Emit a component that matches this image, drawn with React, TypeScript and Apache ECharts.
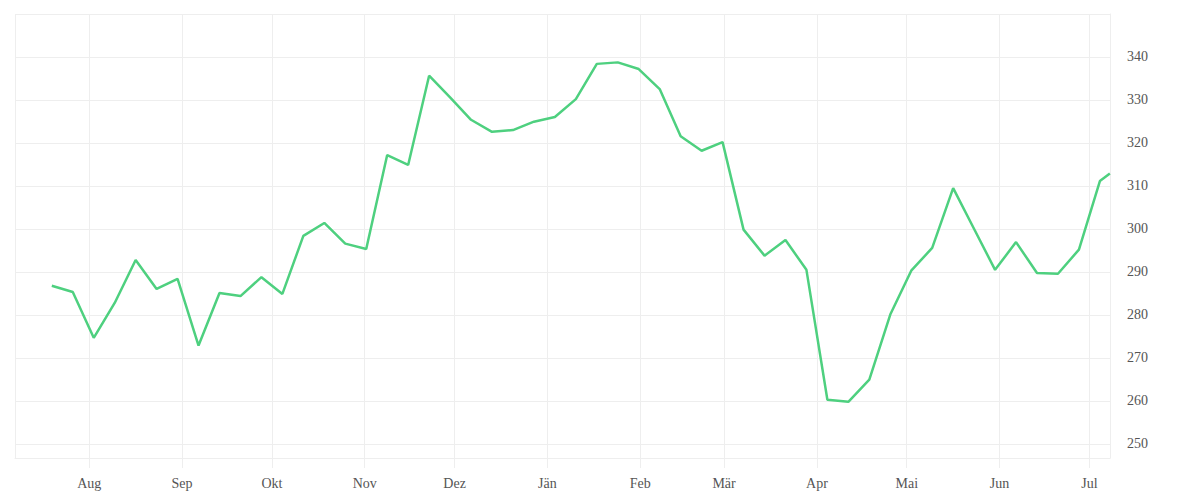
import React, { useEffect, useRef } from "react";
import * as echarts from "echarts";

const dates: string[] = [
  "2022-07-19T12:00", "2022-07-26T12:00", "2022-08-02T12:00", "2022-08-09T12:00",
  "2022-08-16T12:00", "2022-08-23T12:00", "2022-08-30T12:00", "2022-09-06T12:00",
  "2022-09-13T12:00", "2022-09-20T12:00", "2022-09-27T12:00", "2022-10-04T12:00",
  "2022-10-11T12:00", "2022-10-18T12:00", "2022-10-25T12:00", "2022-11-01T12:00",
  "2022-11-08T12:00", "2022-11-15T12:00", "2022-11-22T12:00", "2022-11-29T12:00",
  "2022-12-06T12:00", "2022-12-13T12:00", "2022-12-20T12:00", "2022-12-27T12:00",
  "2023-01-03T12:00", "2023-01-10T12:00", "2023-01-17T12:00", "2023-01-24T12:00",
  "2023-01-31T12:00", "2023-02-07T12:00", "2023-02-14T12:00", "2023-02-21T12:00",
  "2023-02-28T12:00", "2023-03-07T12:00", "2023-03-14T12:00", "2023-03-21T12:00",
  "2023-03-28T12:00", "2023-04-04T12:00", "2023-04-11T12:00", "2023-04-18T12:00",
  "2023-04-25T12:00", "2023-05-02T12:00", "2023-05-09T12:00", "2023-05-16T12:00",
  "2023-05-23T12:00", "2023-05-30T12:00", "2023-06-06T12:00", "2023-06-13T12:00",
  "2023-06-20T12:00", "2023-06-27T12:00", "2023-07-04T12:00", "2023-07-07T20:00",
];

const values: number[] = [
  286.8, 285.35, 274.7, 282.8, 292.8, 286.05, 288.4, 272.9,
  285.1, 284.4, 288.8, 284.9, 298.4, 301.4, 296.6, 295.35,
  317.2, 314.9, 335.65, 330.6, 325.4, 322.6, 323.0, 324.95,
  326.05, 330.2, 338.4, 338.75, 337.2, 332.55, 321.55, 318.2,
  320.2, 299.85, 293.8, 297.45, 290.5, 260.3, 259.8, 264.95,
  280.1, 290.3, 295.6, 309.5, 300.0, 290.5, 296.95, 289.75,
  289.6, 295.2, 311.15, 312.9,
];

const monthLabels: string[] = [
  "Jän", "Feb", "Mär", "Apr", "Mai", "Jun",
  "Jul", "Aug", "Sep", "Okt", "Nov", "Dez",
];

const xMin = "2022-07-07T05:00";
const xMax = "2023-07-07T21:00";
const yMin = 246.74;
const yMax = 350;

const FONT = "'Liberation Serif', serif";
const GRID_COLOR = "#eeeeee";
const LABEL_COLOR = "#555555";
const LINE_COLOR = "#4ed07f";

export default function App() {
  const ref = useRef<HTMLDivElement>(null);

  useEffect(() => {
    document.body.style.margin = "0";
    if (!ref.current) return;
    const chart = echarts.init(ref.current, null, { renderer: "svg" });
    chart.setOption({
      animation: false,
      grid: { left: 15, right: 90, top: 14, bottom: 42, containLabel: false },
      xAxis: {
        type: "time",
        min: xMin,
        max: xMax,
        splitNumber: 12,
        axisLine: { show: true, lineStyle: { color: GRID_COLOR, width: 1 } },
        axisTick: { show: true, length: 10, lineStyle: { color: GRID_COLOR, width: 1 } },
        splitLine: { show: true, lineStyle: { color: GRID_COLOR, width: 1 } },
        minorTick: { show: false },
        axisLabel: {
          margin: 18,
          color: LABEL_COLOR,
          fontFamily: FONT,
          fontSize: 14,
          fontWeight: "normal",
          formatter: (v: number) => monthLabels[new Date(v).getMonth()],
        },
      },
      yAxis: {
        type: "value",
        position: "right",
        min: yMin,
        max: yMax,
        splitNumber: 10,
        axisLine: { show: true, lineStyle: { color: GRID_COLOR, width: 1 } },
        axisTick: { show: false },
        splitLine: { show: true, lineStyle: { color: GRID_COLOR, width: 1 } },
        axisLabel: {
          margin: 17,
          color: LABEL_COLOR,
          fontFamily: FONT,
          fontSize: 14,
          padding: [4, 0, 0, 0],
          showMinLabel: false,
          showMaxLabel: false,
        },
      },
      series: [
        {
          type: "line",
          data: dates.map((d, i) => [d, values[i]]),
          showSymbol: false,
          symbol: "none",
          lineStyle: { color: LINE_COLOR, width: 2.5 },
          itemStyle: { color: LINE_COLOR },
        },
      ],
    });
    return () => chart.dispose();
  }, []);

  return <div ref={ref} style={{ width: 1200, height: 500 }} />;
}
